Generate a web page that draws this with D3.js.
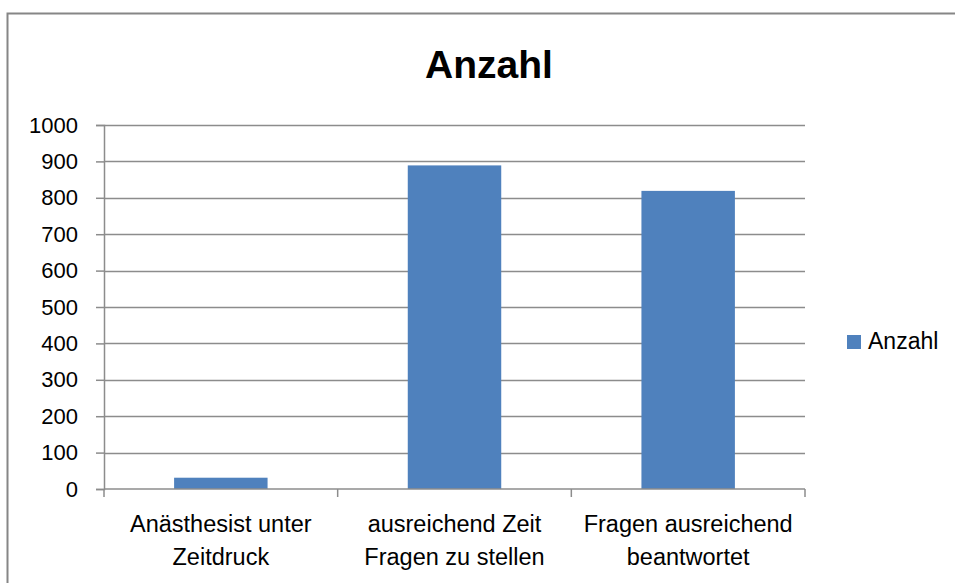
<!DOCTYPE html>
<html>
<head>
<meta charset="utf-8">
<script src="https://cdn.jsdelivr.net/npm/d3@7"></script>
<style>
  body { margin: 0; background: #fff; }
  text { font-family: "Liberation Sans", Arial, sans-serif; fill: #000; }
</style>
</head>
<body>
<div id="chart"></div>
<script>
// data
let categories = [
    ["Anästhesist unter", "Zeitdruck"],
    ["ausreichend Zeit", "Fragen zu stellen"],
    ["Fragen ausreichend", "beantwortet"]
];
let values = [31, 889, 819];
let yTicks = [0, 100, 200, 300, 400, 500, 600, 700, 800, 900, 1000];
let seriesName = "Anzahl";
let title = "Anzahl";

let w = 955, h = 583;
let plotLeft = 104, plotRight = 805, plotTop = 125, plotBottom = 489;

let svg = d3.select("#chart")
    .append("svg")
    .attr("width", w)
    .attr("height", h);

// outer chart frame (cut off at right and bottom like the original)
svg.append("path")
    .attr("d", "M7.5," + (h + 5) + " V13.5 H" + (w + 5))
    .attr("fill", "none")
    .attr("stroke", "#868686")
    .attr("stroke-width", 2);

let xScale = d3.scaleBand()
    .domain(d3.range(categories.length))
    .range([plotLeft, plotRight])
    .paddingInner(0.6)
    .paddingOuter(0.3);

let yScale = d3.scaleLinear()
    .domain([0, 1000])
    .range([plotBottom, plotTop]);

// gridlines
svg.append("g")
    .selectAll("line")
    .data(yTicks.filter(function (d) { return d > 0; }))
    .enter()
    .append("line")
    .attr("x1", plotLeft)
    .attr("x2", plotRight)
    .attr("y1", function (d) { return Math.round(yScale(d)) + 0.5; })
    .attr("y2", function (d) { return Math.round(yScale(d)) + 0.5; })
    .attr("stroke", "#8c8c8c")
    .attr("stroke-width", 1.5);

// bars
svg.append("g")
    .selectAll("rect")
    .data(values)
    .enter()
    .append("rect")
    .attr("x", function (d, i) { return xScale(i); })
    .attr("y", function (d) { return yScale(d); })
    .attr("width", xScale.bandwidth())
    .attr("height", function (d) { return plotBottom - yScale(d); })
    .attr("fill", "#4f81bd");

// y axis
let yAxis = d3.axisLeft(yScale)
    .tickValues(yTicks)
    .tickFormat(d3.format("d"))
    .tickSize(8)
    .tickPadding(18);

let gy = svg.append("g")
    .attr("transform", "translate(" + plotLeft + ",0)")
    .call(yAxis);
gy.select(".domain").attr("stroke", "#8c8c8c").attr("stroke-width", 1.5);
gy.selectAll(".tick line").attr("stroke", "#8c8c8c").attr("stroke-width", 1.5);
gy.selectAll(".tick text")
    .style("font-size", "22px")
    .style("font-family", "'Liberation Sans', Arial, sans-serif")
    .attr("fill", "#000");

// x axis: line plus ticks at band boundaries
let step = (plotRight - plotLeft) / categories.length;
svg.append("line")
    .attr("x1", plotLeft).attr("x2", plotRight)
    .attr("y1", plotBottom).attr("y2", plotBottom)
    .attr("stroke", "#8c8c8c")
    .attr("stroke-width", 1.5);

svg.append("g")
    .selectAll("line")
    .data(d3.range(categories.length + 1))
    .enter()
    .append("line")
    .attr("x1", function (d) { return plotLeft + d * step; })
    .attr("x2", function (d) { return plotLeft + d * step; })
    .attr("y1", plotBottom)
    .attr("y2", plotBottom + 8)
    .attr("stroke", "#8c8c8c")
    .attr("stroke-width", 1.5);

// category labels
let labels = svg.append("g")
    .selectAll("text")
    .data(categories)
    .enter()
    .append("text")
    .attr("text-anchor", "middle")
    .style("font-size", "23.5px");

labels.selectAll("tspan")
    .data(function (d, i) {
        return d.map(function (t) { return { t: t, i: i }; });
    })
    .enter()
    .append("tspan")
    .attr("x", function (d) { return xScale(d.i) + xScale.bandwidth() / 2; })
    .attr("y", function (d, j) { return 532 + j * 33; })
    .text(function (d) { return d.t; });

// title
svg.append("text")
    .attr("x", 489)
    .attr("y", 78)
    .attr("text-anchor", "middle")
    .style("font-size", "39px")
    .style("font-weight", "bold")
    .text(title);

// legend
svg.append("rect")
    .attr("x", 847)
    .attr("y", 335)
    .attr("width", 14)
    .attr("height", 14)
    .attr("fill", "#4f81bd");

svg.append("text")
    .attr("x", 868)
    .attr("y", 349)
    .style("font-size", "23px")
    .text(seriesName);
</script>
</body>
</html>
